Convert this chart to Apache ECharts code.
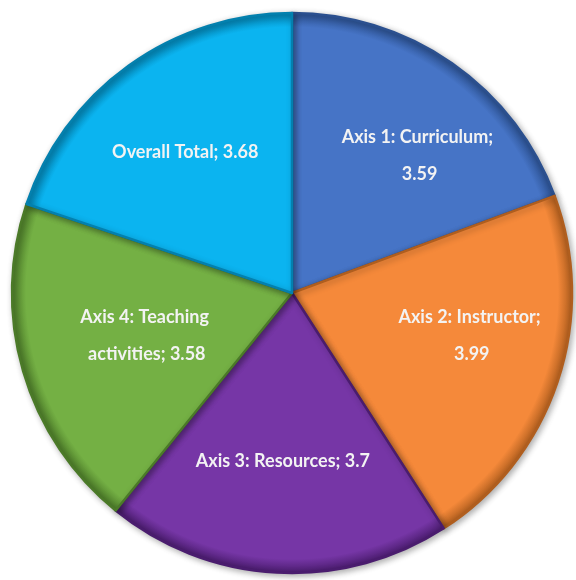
<!DOCTYPE html>
<html>
<head>
<meta charset="utf-8">
<script src="https://cdn.jsdelivr.net/npm/echarts@6/dist/echarts.min.js"></script>
<style>
  html, body { margin: 0; padding: 0; background: #ffffff; }
  #chart { width: 576px; height: 580px; }
</style>
</head>
<body>
<div id="chart"></div>
<script>
// Mean score per evaluation axis
const categories = [
  'Axis 1: Curriculum',
  'Axis 2: Instructor',
  'Axis 3: Resources',
  'Axis 4: Teaching activities',
  'Overall Total'
];
const values = [3.59, 3.99, 3.7, 3.58, 3.68];

// Slice colours and their darker edge tones
const fills = ['#4674C6', '#F5893A', '#7636A6', '#74B044', '#0BB4F0'];
const edges = ['#2B508F', '#B05E1E', '#4A1C6E', '#4B7A28', '#0380AE'];

// Geometry of the pie
const CX = 292, CY = 293, R = 280;

// Label placement: wrap width, radial fraction and angular nudge (degrees)
const wrapWidths = [175, 165, 220, 150, 200];
const labelRadius = [0.67, 0.66, 0.6, 0.54, 0.63];
const labelTurn = [-8, 5, 0, 0, 1.5];

const total = values.reduce((a, b) => a + b, 0);
// Mid-angle of each slice, clockwise from 12 o'clock (in degrees, math convention)
const midAngles = [];
let acc = 90;
values.forEach(v => {
  const span = v / total * 360;
  midAngles.push(acc - span / 2);
  acc -= span;
});

const chart = echarts.init(document.getElementById('chart'), null, { renderer: 'canvas' });

const data = categories.map((name, i) => ({
  name,
  value: values[i],
  itemStyle: {
    color: {
      type: 'radial', global: true, x: CX, y: CY, r: R,
      colorStops: [
        { offset: 0, color: fills[i] },
        { offset: 0.95, color: fills[i] },
        { offset: 1, color: edges[i] }
      ]
    },
    borderColor: edges[i]
  },
  label: { width: wrapWidths[i] }
}));

chart.setOption({
  backgroundColor: '#ffffff',
  animation: false,
  series: [{
    type: 'pie',
    center: [CX, CY],
    radius: [0, R],
    startAngle: 90,
    clockwise: true,
    data,
    itemStyle: {
      borderWidth: 2.5,
      shadowBlur: 6,
      shadowOffsetX: 2,
      shadowOffsetY: 2,
      shadowColor: 'rgba(0,0,0,0.3)'
    },
    label: {
      show: true,
      position: 'inside',
      formatter: p => p.name + '; ' + p.value,
      overflow: 'break',
      color: '#F3F3F3',
      fontFamily: 'Lato',
      fontWeight: 'bold',
      fontSize: 18,
      lineHeight: 37,
      align: 'center'
    },
    labelLayout: p => {
      const i = p.dataIndex;
      const a = (midAngles[i] + labelTurn[i]) * Math.PI / 180;
      const r = R * labelRadius[i];
      return {
        x: CX + r * Math.cos(a),
        y: CY - r * Math.sin(a),
        align: 'center',
        verticalAlign: 'middle'
      };
    },
    labelLine: { show: false },
    emphasis: { disabled: true }
  }]
});
</script>
</body>
</html>
